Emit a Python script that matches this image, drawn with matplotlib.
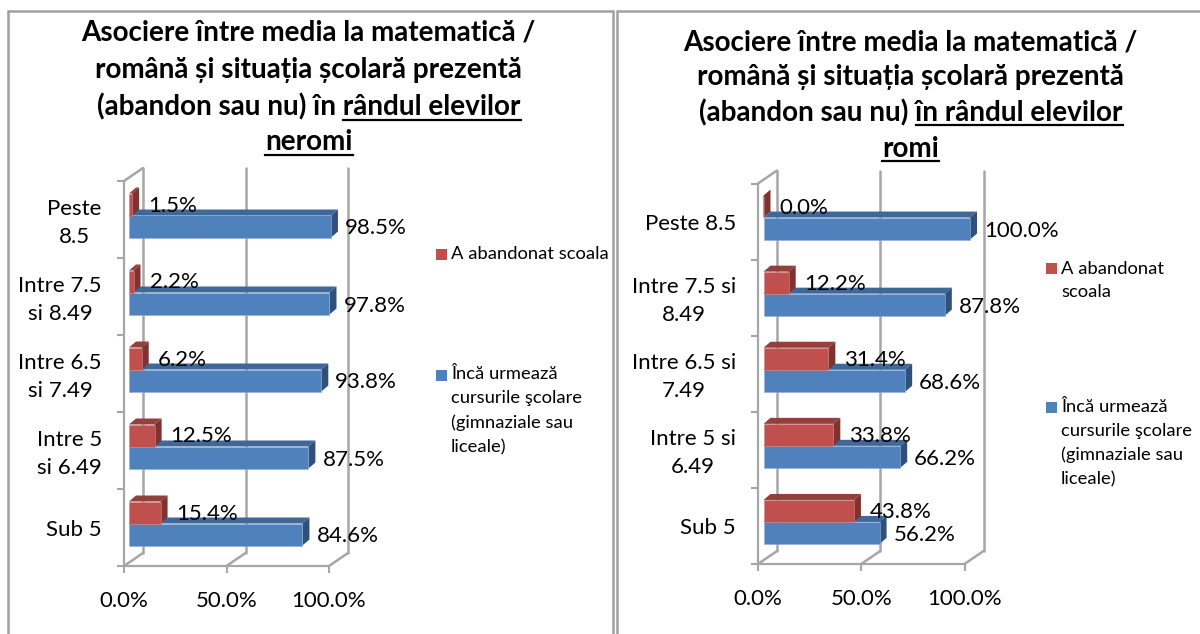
import matplotlib
matplotlib.use("Agg")
import matplotlib.pyplot as plt
from matplotlib.patches import Polygon, Rectangle
from matplotlib.lines import Line2D

plt.rcParams['font.family'] = ['Lato', 'DejaVu Sans']

W, H = 1200, 634
LABEL_FS = 16.0
LEGEND_FS = 13.2
TITLE_FS = 20.1
GRID = '#A6A6A6'

# Data
left_categories = ['Sub 5', 'Intre 5\nsi 6.49', 'Intre 6.5\nsi 7.49', 'Intre 7.5\nsi 8.49', 'Peste\n8.5']
left_abandon = [15.4, 12.5, 6.2, 2.2, 1.5]
left_enrolled = [84.6, 87.5, 93.8, 97.8, 98.5]

right_categories = ['Sub 5', 'Intre 5 si\n6.49', 'Intre 6.5 si\n7.49', 'Intre 7.5 si\n8.49', 'Peste 8.5']
right_abandon = [43.8, 33.8, 31.4, 12.2, 0.0]
right_enrolled = [56.2, 66.2, 68.6, 87.8, 100.0]

x_ticks = [0, 50, 100]
x_tick_labels = ['0.0%', '50.0%', '100.0%']
series_abandon = 'A abandonat scoala'
series_enrolled = 'Încă urmează\ncursurile şcolare\n(gimnaziale sau\nliceale)'
series_abandon_wrapped = 'A abandonat\nscoala'

title_lines_common = ['Asociere între media la matematică /', 'română și situația școlară prezentă']
left_title = title_lines_common + ['(abandon sau nu) în rândul elevilor', 'neromi']
right_title = title_lines_common + ['(abandon sau nu) în rândul elevilor', 'romi']

fig = plt.figure(figsize=(W / 100, H / 100), dpi=100, facecolor='white')


def fx(x):
    return x / W


def fy(y):
    return 1 - y / H


def ftext(x, y, s, **kw):
    fig.text(fx(x), fy(y), s, **kw)


def fline(x0, y0, x1, y1, color='black', lw=1.6):
    fig.add_artist(Line2D([fx(x0), fx(x1)], [fy(y0), fy(y1)], color=color, lw=lw, transform=fig.transFigure))


def swatch(x, y, color):
    fig.add_artist(Rectangle((fx(x), fy(y + 11)), 11 / W, 11 / H, facecolor=color, edgecolor='none', transform=fig.transFigure))


def chart(x0, x100, ytop, ybot, cats, red, blue, bar_ox, group_oy):
    ax = fig.add_axes([fx(x0), fy(ybot), (x100 - x0) / W, (ybot - ytop) / H])
    ax.set_xlim(0, 100)
    ax.set_ylim(-0.5, 4.5)
    ax.patch.set_alpha(0)
    ppx = (x100 - x0) / 100
    ppy = (ybot - ytop) / 5
    wall_dx, wall_dy = 19 / ppx, 13 / ppy
    for s in ['top', 'right']:
        ax.spines[s].set_visible(False)
    for s in ['left', 'bottom']:
        ax.spines[s].set_color(GRID)
        ax.spines[s].set_linewidth(1.6)

    # back wall, floor and top edge
    kw = dict(color=GRID, lw=1.8, zorder=1, clip_on=False, solid_capstyle='round')
    for t in x_ticks:
        ax.plot([t + wall_dx, t + wall_dx], [-0.5 + wall_dy, 4.5 + wall_dy], **kw)
        ax.plot([t, t + wall_dx], [-0.5, -0.5 + wall_dy], **kw)
    ax.plot([0, wall_dx], [4.5, 4.5 + wall_dy], **kw)

    # bars
    ox = bar_ox / ppx
    h = 22 / ppy
    ddx, ddy = 7 / ppx, 6 / ppy
    edge = group_oy / ppy
    specs = [
        (blue, edge - h, '#4F81BD', '#3F6797', '#30507A', '#8FB0D8', 2),
        (red, edge, '#C0504D', '#93403D', '#7F3331', '#CE8583', 3),
    ]
    for values, bottom, cf, ct, cs, ce, z in specs:
        for i, v in enumerate(values):
            y0 = i + bottom
            y1 = y0 + h
            xa, xb = ox, ox + v
            ax.add_patch(Polygon([(xa, y1), (xb, y1), (xb + ddx, y1 + ddy), (xa + ddx, y1 + ddy)],
                                 facecolor=ct, edgecolor='none', zorder=z, clip_on=False))
            ax.add_patch(Polygon([(xb, y0), (xb + ddx, y0 + ddy), (xb + ddx, y1 + ddy), (xb, y1)],
                                 facecolor=cs, edgecolor='none', zorder=z, clip_on=False))
        bars = ax.barh([i + bottom for i in range(5)], list(values), height=h, left=ox, align='edge',
                       color=cf, edgecolor=ce, linewidth=0.4, zorder=z + 0.1)
        for b in bars:
            b.set_clip_on(False)

    # data labels
    for i, (r, b) in enumerate(zip(red, blue)):
        ax.annotate(f'{r:.1f}%', (ox + r, i + edge + h / 2), xytext=(16, -1), textcoords='offset pixels',
                    ha='left', va='center', fontsize=LABEL_FS, color='black', zorder=6, annotation_clip=False)
        ax.annotate(f'{b:.1f}%', (ox + b, i + edge - h / 2), xytext=(14, -2), textcoords='offset pixels',
                    ha='left', va='center', fontsize=LABEL_FS, color='black', zorder=6, annotation_clip=False)

    ax.set_xticks(x_ticks, x_tick_labels, fontsize=LABEL_FS)
    ax.set_yticks([i - 0.5 for i in range(6)])
    ax.set_yticklabels([''] * 6)
    label_pos = [i + (2.5 / ppy if '\n' in c else 0) for i, c in enumerate(cats)]
    ax.set_yticks(label_pos, cats, minor=True, fontsize=LABEL_FS, multialignment='center', linespacing=1.5)
    ax.tick_params(axis='x', length=5, width=1.5, color=GRID, pad=13, labelcolor='black')
    ax.tick_params(axis='y', which='major', length=5, width=1.5, color=GRID)
    ax.tick_params(axis='y', which='minor', length=0, pad=16, labelcolor='black')
    return ax


chart(124, 329, 181, 566, left_categories, left_abandon, left_enrolled, 5, 4)
chart(758, 964.5, 183.5, 564, right_categories, right_abandon, right_enrolled, 5.5, 4)

# panel frames
for (a, b, c, d) in [(7.5, 10.5, 613, 640), (616.5, 10.5, 1210, 640)]:
    fig.add_artist(Rectangle((fx(a), fy(d)), (c - a) / W, (d - b) / H, facecolor='none', edgecolor='#A0A0A0',
                             lw=1.8, transform=fig.transFigure))

# titles
for s, y in zip(left_title, [32, 70, 107, 142]):
    ftext(308.5, y, s, ha='center', va='center', fontsize=TITLE_FS, fontweight='bold')
for s, y in zip(right_title, [42, 77, 113, 149]):
    ftext(910.5, y, s, ha='center', va='center', fontsize=TITLE_FS, fontweight='bold')
fline(343, 120, 521, 120)
fline(265, 155, 353, 155)
fline(916, 125, 1123, 125)
fline(882, 161, 939, 161)

# legends
swatch(436, 249, '#C0504D')
ftext(451, 254, series_abandon, ha='left', va='center', fontsize=LEGEND_FS)
swatch(436, 370, '#4F81BD')
for line, y in zip(series_enrolled.split('\n'), [374, 398, 423, 447]):
    ftext(451, y, line, ha='left', va='center', fontsize=LEGEND_FS)
swatch(1046, 263, '#C0504D')
for line, y in zip(series_abandon_wrapped.split('\n'), [269, 292]):
    ftext(1061, y, line, ha='left', va='center', fontsize=LEGEND_FS)
swatch(1046, 402, '#4F81BD')
for line, y in zip(series_enrolled.split('\n'), [407, 431, 455, 479]):
    ftext(1061, y, line, ha='left', va='center', fontsize=LEGEND_FS)

fig.savefig('out.png', dpi=100)
